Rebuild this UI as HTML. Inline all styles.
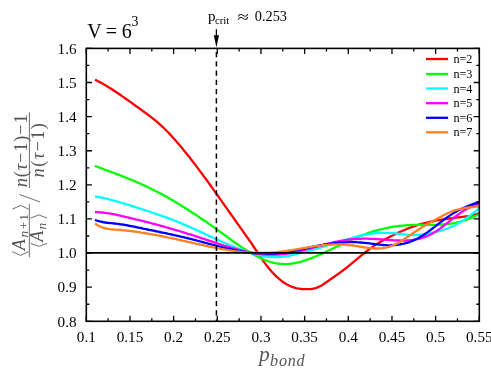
<!DOCTYPE html>
<html><head><meta charset="utf-8"><title>plot</title>
<style>
html,body{margin:0;padding:0;background:#fff;}
body{width:491px;height:369px;overflow:hidden;}
svg{display:block;}
text{font-family:"Liberation Serif",serif;fill:#000;}
.it{font-style:italic;}
</style></head><body>
<svg width="491" height="369" viewBox="0 0 491 369">
<rect x="0" y="0" width="491" height="369" fill="#fff"/>

<defs><filter id="gs" x="0" y="0" width="491" height="369" filterUnits="userSpaceOnUse" color-interpolation-filters="sRGB"><feColorMatrix type="saturate" values="0"/></filter><clipPath id="c"><rect x="86.3" y="48.4" width="393.0" height="272.90000000000003"/></clipPath></defs>
<g clip-path="url(#c)" fill="none" stroke-width="2.3" stroke-linejoin="round" stroke-linecap="butt">
<polyline stroke="#ff0000" points="95.0,79.7 96.5,80.4 98.0,81.2 99.5,82.0 101.0,82.8 102.5,83.6 104.0,84.5 105.5,85.3 107.0,86.2 108.5,87.2 110.0,88.1 111.5,89.0 113.0,90.0 114.5,91.0 116.0,92.0 117.5,93.0 119.0,94.0 120.5,95.0 122.0,96.1 123.5,97.1 125.0,98.2 126.5,99.2 128.0,100.3 129.5,101.4 131.0,102.4 132.5,103.5 134.0,104.6 135.5,105.7 137.0,106.8 138.5,107.8 140.0,108.9 141.5,110.0 143.0,111.1 144.5,112.2 146.0,113.3 147.5,114.4 149.0,115.5 150.5,116.6 152.0,117.8 153.5,119.0 155.0,120.2 156.5,121.5 158.0,122.7 159.5,124.1 161.0,125.4 162.5,126.8 164.0,128.3 165.5,129.8 167.0,131.3 168.5,132.8 170.0,134.4 171.5,136.0 173.0,137.7 174.5,139.3 176.0,141.0 177.5,142.7 179.0,144.5 180.5,146.3 182.0,148.0 183.5,149.9 185.0,151.7 186.5,153.6 188.0,155.4 189.5,157.3 191.0,159.3 192.5,161.2 194.0,163.1 195.5,165.1 197.0,167.1 198.5,169.1 200.0,171.1 201.5,173.1 203.0,175.2 204.5,177.2 206.0,179.3 207.5,181.3 209.0,183.4 210.5,185.5 212.0,187.6 213.5,189.7 215.0,191.8 216.5,193.9 218.0,196.0 219.5,198.1 221.0,200.2 222.5,202.4 224.0,204.5 225.5,206.6 227.0,208.7 228.5,210.9 230.0,213.0 231.5,215.1 233.0,217.2 234.5,219.4 236.0,221.5 237.5,223.6 239.0,225.7 240.5,227.8 242.0,229.9 243.5,232.1 245.0,234.2 246.5,236.3 248.0,238.4 249.5,240.6 251.0,242.7 252.5,245.0 254.0,247.2 255.5,249.5 257.0,251.7 258.5,254.0 260.0,256.2 261.5,258.4 263.0,260.6 264.5,262.6 266.0,264.6 267.5,266.6 269.0,268.4 270.5,270.2 272.0,271.9 273.5,273.6 275.0,275.1 276.5,276.6 278.0,277.9 279.5,279.2 281.0,280.5 282.5,281.6 284.0,282.7 285.5,283.6 287.0,284.5 288.5,285.3 290.0,286.0 291.5,286.7 293.0,287.2 294.5,287.7 296.0,288.1 297.5,288.4 299.0,288.6 300.5,288.8 302.0,289.0 303.5,289.1 305.0,289.2 306.5,289.2 308.0,289.2 309.5,289.1 311.0,289.0 312.5,288.8 314.0,288.5 315.5,288.1 317.0,287.6 318.5,286.9 320.0,286.2 321.5,285.4 323.0,284.5 324.5,283.5 326.0,282.5 327.5,281.5 329.0,280.4 330.5,279.3 332.0,278.3 333.5,277.2 335.0,276.2 336.5,275.1 338.0,274.0 339.5,273.0 341.0,271.9 342.5,270.8 344.0,269.6 345.5,268.5 347.0,267.3 348.5,266.1 350.0,264.9 351.5,263.6 353.0,262.4 354.5,261.1 356.0,259.9 357.5,258.6 359.0,257.4 360.5,256.1 362.0,254.9 363.5,253.7 365.0,252.5 366.5,251.3 368.0,250.2 369.5,249.0 371.0,247.9 372.5,246.9 374.0,245.9 375.5,244.9 377.0,243.9 378.5,243.0 380.0,242.1 381.5,241.2 383.0,240.4 384.5,239.6 386.0,238.7 387.5,238.0 389.0,237.2 390.5,236.4 392.0,235.7 393.5,235.0 395.0,234.2 396.5,233.5 398.0,232.8 399.5,232.1 401.0,231.5 402.5,230.8 404.0,230.2 405.5,229.5 407.0,228.9 408.5,228.3 410.0,227.7 411.5,227.2 413.0,226.6 414.5,226.1 416.0,225.6 417.5,225.1 419.0,224.7 420.5,224.2 422.0,223.8 423.5,223.4 425.0,223.0 426.5,222.6 428.0,222.3 429.5,221.9 431.0,221.6 432.5,221.3 434.0,221.0 435.5,220.7 437.0,220.4 438.5,220.1 440.0,219.9 441.5,219.6 443.0,219.4 444.5,219.2 446.0,219.0 447.5,218.8 449.0,218.5 450.5,218.4 452.0,218.2 453.5,218.0 455.0,217.8 456.5,217.6 458.0,217.4 459.5,217.3 461.0,217.1 462.5,216.9 464.0,216.7 465.5,216.5 467.0,216.3 468.5,216.1 470.0,215.9 471.5,215.6 473.0,215.3 474.5,214.9 476.0,214.4 477.5,213.9 479.0,213.3 479.1,213.2"/>
<polyline stroke="#00ff00" points="95.0,165.9 96.5,166.5 98.0,167.0 99.5,167.6 101.0,168.2 102.5,168.7 104.0,169.3 105.5,169.8 107.0,170.4 108.5,170.9 110.0,171.5 111.5,172.1 113.0,172.6 114.5,173.2 116.0,173.8 117.5,174.3 119.0,174.9 120.5,175.5 122.0,176.1 123.5,176.7 125.0,177.2 126.5,177.8 128.0,178.5 129.5,179.1 131.0,179.7 132.5,180.3 134.0,180.9 135.5,181.6 137.0,182.2 138.5,182.9 140.0,183.5 141.5,184.2 143.0,184.9 144.5,185.6 146.0,186.3 147.5,187.0 149.0,187.7 150.5,188.4 152.0,189.2 153.5,189.9 155.0,190.7 156.5,191.5 158.0,192.2 159.5,193.0 161.0,193.8 162.5,194.6 164.0,195.5 165.5,196.3 167.0,197.1 168.5,198.0 170.0,198.8 171.5,199.7 173.0,200.6 174.5,201.5 176.0,202.3 177.5,203.2 179.0,204.1 180.5,205.1 182.0,206.0 183.5,206.9 185.0,207.9 186.5,208.8 188.0,209.8 189.5,210.7 191.0,211.7 192.5,212.7 194.0,213.7 195.5,214.6 197.0,215.6 198.5,216.6 200.0,217.7 201.5,218.7 203.0,219.7 204.5,220.7 206.0,221.8 207.5,222.8 209.0,223.9 210.5,224.9 212.0,226.0 213.5,227.0 215.0,228.1 216.5,229.2 218.0,230.3 219.5,231.4 221.0,232.5 222.5,233.6 224.0,234.6 225.5,235.7 227.0,236.8 228.5,237.9 230.0,239.0 231.5,240.1 233.0,241.2 234.5,242.2 236.0,243.3 237.5,244.3 239.0,245.3 240.5,246.4 242.0,247.4 243.5,248.4 245.0,249.3 246.5,250.3 248.0,251.2 249.5,252.1 251.0,253.0 252.5,253.9 254.0,254.7 255.5,255.6 257.0,256.3 258.5,257.1 260.0,257.8 261.5,258.5 263.0,259.2 264.5,259.8 266.0,260.4 267.5,261.0 269.0,261.5 270.5,262.0 272.0,262.4 273.5,262.8 275.0,263.1 276.5,263.4 278.0,263.6 279.5,263.8 281.0,263.9 282.5,264.0 284.0,264.1 285.5,264.1 287.0,264.0 288.5,263.9 290.0,263.8 291.5,263.6 293.0,263.4 294.5,263.1 296.0,262.8 297.5,262.5 299.0,262.1 300.5,261.8 302.0,261.3 303.5,260.9 305.0,260.4 306.5,259.9 308.0,259.4 309.5,258.9 311.0,258.3 312.5,257.7 314.0,257.1 315.5,256.5 317.0,255.8 318.5,255.2 320.0,254.5 321.5,253.9 323.0,253.2 324.5,252.5 326.0,251.8 327.5,251.1 329.0,250.4 330.5,249.7 332.0,249.0 333.5,248.2 335.0,247.5 336.5,246.8 338.0,246.1 339.5,245.4 341.0,244.7 342.5,244.0 344.0,243.3 345.5,242.6 347.0,241.9 348.5,241.2 350.0,240.5 351.5,239.9 353.0,239.2 354.5,238.5 356.0,237.9 357.5,237.3 359.0,236.6 360.5,236.0 362.0,235.4 363.5,234.9 365.0,234.3 366.5,233.7 368.0,233.2 369.5,232.7 371.0,232.2 372.5,231.7 374.0,231.2 375.5,230.7 377.0,230.3 378.5,229.9 380.0,229.5 381.5,229.1 383.0,228.8 384.5,228.4 386.0,228.1 387.5,227.8 389.0,227.5 390.5,227.2 392.0,227.0 393.5,226.7 395.0,226.5 396.5,226.3 398.0,226.1 399.5,225.9 401.0,225.8 402.5,225.6 404.0,225.5 405.5,225.3 407.0,225.2 408.5,225.1 410.0,225.1 411.5,225.0 413.0,224.9 414.5,224.9 416.0,224.8 417.5,224.8 419.0,224.8 420.5,224.8 422.0,224.8 423.5,224.8 425.0,224.8 426.5,224.8 428.0,224.8 429.5,224.8 431.0,224.8 432.5,224.8 434.0,224.8 435.5,224.8 437.0,224.8 438.5,224.7 440.0,224.7 441.5,224.6 443.0,224.5 444.5,224.4 446.0,224.2 447.5,224.1 449.0,223.9 450.5,223.7 452.0,223.5 453.5,223.2 455.0,222.9 456.5,222.6 458.0,222.2 459.5,221.9 461.0,221.4 462.5,221.0 464.0,220.5 465.5,220.1 467.0,219.5 468.5,219.0 470.0,218.4 471.5,217.8 473.0,217.1 474.5,216.4 476.0,215.7 477.5,215.0 479.0,214.2 479.1,214.2"/>
<polyline stroke="#00ffff" points="95.0,196.4 96.5,196.6 98.0,196.9 99.5,197.2 101.0,197.5 102.5,197.8 104.0,198.2 105.5,198.5 107.0,198.9 108.5,199.2 110.0,199.6 111.5,200.0 113.0,200.4 114.5,200.8 116.0,201.2 117.5,201.6 119.0,202.0 120.5,202.5 122.0,202.9 123.5,203.3 125.0,203.8 126.5,204.3 128.0,204.7 129.5,205.2 131.0,205.7 132.5,206.1 134.0,206.6 135.5,207.1 137.0,207.6 138.5,208.1 140.0,208.6 141.5,209.1 143.0,209.5 144.5,210.0 146.0,210.5 147.5,211.0 149.0,211.5 150.5,212.0 152.0,212.5 153.5,213.0 155.0,213.5 156.5,214.0 158.0,214.6 159.5,215.1 161.0,215.6 162.5,216.1 164.0,216.6 165.5,217.2 167.0,217.7 168.5,218.3 170.0,218.8 171.5,219.4 173.0,220.0 174.5,220.6 176.0,221.1 177.5,221.7 179.0,222.4 180.5,223.0 182.0,223.6 183.5,224.3 185.0,224.9 186.5,225.6 188.0,226.2 189.5,226.9 191.0,227.6 192.5,228.2 194.0,228.9 195.5,229.6 197.0,230.3 198.5,231.0 200.0,231.7 201.5,232.4 203.0,233.1 204.5,233.8 206.0,234.5 207.5,235.2 209.0,235.9 210.5,236.6 212.0,237.3 213.5,238.0 215.0,238.7 216.5,239.3 218.0,240.0 219.5,240.7 221.0,241.3 222.5,242.0 224.0,242.7 225.5,243.3 227.0,243.9 228.5,244.6 230.0,245.2 231.5,245.8 233.0,246.4 234.5,247.0 236.0,247.6 237.5,248.2 239.0,248.8 240.5,249.3 242.0,249.9 243.5,250.4 245.0,251.0 246.5,251.5 248.0,252.0 249.5,252.5 251.0,252.9 252.5,253.4 254.0,253.8 255.5,254.3 257.0,254.6 258.5,255.0 260.0,255.4 261.5,255.7 263.0,256.0 264.5,256.2 266.0,256.5 267.5,256.7 269.0,256.8 270.5,257.0 272.0,257.1 273.5,257.1 275.0,257.2 276.5,257.2 278.0,257.1 279.5,257.0 281.0,256.9 282.5,256.7 284.0,256.5 285.5,256.3 287.0,256.0 288.5,255.8 290.0,255.5 291.5,255.1 293.0,254.8 294.5,254.4 296.0,254.1 297.5,253.7 299.0,253.3 300.5,253.0 302.0,252.6 303.5,252.2 305.0,251.8 306.5,251.4 308.0,251.0 309.5,250.6 311.0,250.2 312.5,249.8 314.0,249.4 315.5,249.0 317.0,248.5 318.5,248.1 320.0,247.7 321.5,247.2 323.0,246.8 324.5,246.3 326.0,245.8 327.5,245.4 329.0,244.9 330.5,244.4 332.0,244.0 333.5,243.5 335.0,243.0 336.5,242.6 338.0,242.1 339.5,241.6 341.0,241.2 342.5,240.7 344.0,240.2 345.5,239.8 347.0,239.3 348.5,238.9 350.0,238.5 351.5,238.0 353.0,237.6 354.5,237.2 356.0,236.8 357.5,236.4 359.0,236.1 360.5,235.7 362.0,235.4 363.5,235.0 365.0,234.7 366.5,234.5 368.0,234.2 369.5,233.9 371.0,233.7 372.5,233.5 374.0,233.4 375.5,233.2 377.0,233.1 378.5,233.0 380.0,232.9 381.5,232.8 383.0,232.8 384.5,232.8 386.0,232.8 387.5,232.8 389.0,232.8 390.5,232.9 392.0,233.0 393.5,233.1 395.0,233.3 396.5,233.4 398.0,233.6 399.5,233.8 401.0,234.0 402.5,234.2 404.0,234.4 405.5,234.5 407.0,234.7 408.5,234.8 410.0,234.9 411.5,235.0 413.0,235.0 414.5,235.0 416.0,235.0 417.5,234.9 419.0,234.9 420.5,234.7 422.0,234.6 423.5,234.4 425.0,234.2 426.5,234.0 428.0,233.7 429.5,233.4 431.0,233.1 432.5,232.8 434.0,232.5 435.5,232.1 437.0,231.7 438.5,231.3 440.0,230.9 441.5,230.5 443.0,230.0 444.5,229.5 446.0,229.0 447.5,228.5 449.0,227.9 450.5,227.3 452.0,226.7 453.5,226.0 455.0,225.2 456.5,224.4 458.0,223.6 459.5,222.7 461.0,221.8 462.5,220.9 464.0,219.9 465.5,218.9 467.0,217.8 468.5,216.7 470.0,215.6 471.5,214.5 473.0,213.3 474.5,212.1 476.0,210.9 477.5,209.6 479.0,208.4 479.1,208.3"/>
<polyline stroke="#ff00ff" points="95.0,212.2 96.5,212.2 98.0,212.2 99.5,212.3 101.0,212.4 102.5,212.5 104.0,212.7 105.5,212.9 107.0,213.1 108.5,213.3 110.0,213.5 111.5,213.8 113.0,214.1 114.5,214.4 116.0,214.7 117.5,215.0 119.0,215.4 120.5,215.7 122.0,216.1 123.5,216.4 125.0,216.8 126.5,217.1 128.0,217.5 129.5,217.8 131.0,218.2 132.5,218.6 134.0,218.9 135.5,219.3 137.0,219.6 138.5,220.0 140.0,220.4 141.5,220.7 143.0,221.1 144.5,221.5 146.0,221.8 147.5,222.2 149.0,222.6 150.5,223.0 152.0,223.4 153.5,223.8 155.0,224.2 156.5,224.6 158.0,225.0 159.5,225.4 161.0,225.8 162.5,226.2 164.0,226.6 165.5,227.1 167.0,227.5 168.5,227.9 170.0,228.4 171.5,228.8 173.0,229.2 174.5,229.7 176.0,230.1 177.5,230.6 179.0,231.0 180.5,231.5 182.0,231.9 183.5,232.4 185.0,232.8 186.5,233.3 188.0,233.8 189.5,234.2 191.0,234.7 192.5,235.2 194.0,235.7 195.5,236.1 197.0,236.6 198.5,237.1 200.0,237.6 201.5,238.1 203.0,238.6 204.5,239.1 206.0,239.6 207.5,240.1 209.0,240.6 210.5,241.1 212.0,241.6 213.5,242.1 215.0,242.6 216.5,243.0 218.0,243.5 219.5,244.0 221.0,244.5 222.5,245.0 224.0,245.5 225.5,245.9 227.0,246.4 228.5,246.9 230.0,247.3 231.5,247.8 233.0,248.2 234.5,248.6 236.0,249.0 237.5,249.4 239.0,249.8 240.5,250.2 242.0,250.6 243.5,251.0 245.0,251.3 246.5,251.6 248.0,252.0 249.5,252.3 251.0,252.6 252.5,252.8 254.0,253.1 255.5,253.3 257.0,253.6 258.5,253.8 260.0,253.9 261.5,254.1 263.0,254.3 264.5,254.4 266.0,254.5 267.5,254.6 269.0,254.7 270.5,254.7 272.0,254.7 273.5,254.7 275.0,254.7 276.5,254.6 278.0,254.5 279.5,254.4 281.0,254.3 282.5,254.2 284.0,254.0 285.5,253.8 287.0,253.6 288.5,253.3 290.0,253.1 291.5,252.8 293.0,252.5 294.5,252.2 296.0,251.9 297.5,251.6 299.0,251.2 300.5,250.9 302.0,250.5 303.5,250.2 305.0,249.8 306.5,249.4 308.0,249.0 309.5,248.6 311.0,248.2 312.5,247.8 314.0,247.4 315.5,247.0 317.0,246.6 318.5,246.2 320.0,245.8 321.5,245.4 323.0,245.0 324.5,244.6 326.0,244.2 327.5,243.8 329.0,243.4 330.5,243.1 332.0,242.7 333.5,242.4 335.0,242.0 336.5,241.7 338.0,241.4 339.5,241.1 341.0,240.8 342.5,240.6 344.0,240.3 345.5,240.1 347.0,239.9 348.5,239.7 350.0,239.5 351.5,239.4 353.0,239.2 354.5,239.1 356.0,239.0 357.5,238.9 359.0,238.8 360.5,238.8 362.0,238.7 363.5,238.7 365.0,238.7 366.5,238.7 368.0,238.7 369.5,238.8 371.0,238.8 372.5,238.9 374.0,238.9 375.5,239.0 377.0,239.1 378.5,239.2 380.0,239.3 381.5,239.4 383.0,239.5 384.5,239.6 386.0,239.8 387.5,239.9 389.0,240.0 390.5,240.1 392.0,240.2 393.5,240.3 395.0,240.4 396.5,240.4 398.0,240.5 399.5,240.5 401.0,240.6 402.5,240.6 404.0,240.6 405.5,240.5 407.0,240.5 408.5,240.4 410.0,240.2 411.5,240.1 413.0,239.9 414.5,239.7 416.0,239.4 417.5,239.1 419.0,238.8 420.5,238.4 422.0,237.9 423.5,237.5 425.0,236.9 426.5,236.3 428.0,235.7 429.5,235.0 431.0,234.3 432.5,233.5 434.0,232.6 435.5,231.7 437.0,230.8 438.5,229.7 440.0,228.7 441.5,227.5 443.0,226.4 444.5,225.2 446.0,224.0 447.5,222.8 449.0,221.6 450.5,220.4 452.0,219.2 453.5,218.1 455.0,216.9 456.5,215.8 458.0,214.7 459.5,213.6 461.0,212.5 462.5,211.6 464.0,210.6 465.5,209.7 467.0,208.8 468.5,208.1 470.0,207.3 471.5,206.6 473.0,206.0 474.5,205.5 476.0,205.0 477.5,204.5 479.0,204.2 479.1,204.2"/>
<polyline stroke="#0000ff" points="95.0,219.9 96.5,220.5 98.0,220.9 99.5,221.4 101.0,221.7 102.5,222.0 104.0,222.3 105.5,222.5 107.0,222.8 108.5,222.9 110.0,223.1 111.5,223.2 113.0,223.4 114.5,223.5 116.0,223.7 117.5,223.9 119.0,224.0 120.5,224.3 122.0,224.5 123.5,224.7 125.0,225.0 126.5,225.2 128.0,225.5 129.5,225.8 131.0,226.1 132.5,226.4 134.0,226.7 135.5,227.0 137.0,227.3 138.5,227.6 140.0,227.9 141.5,228.2 143.0,228.6 144.5,228.9 146.0,229.2 147.5,229.5 149.0,229.8 150.5,230.1 152.0,230.4 153.5,230.7 155.0,231.0 156.5,231.3 158.0,231.6 159.5,232.0 161.0,232.3 162.5,232.6 164.0,232.9 165.5,233.2 167.0,233.5 168.5,233.9 170.0,234.2 171.5,234.5 173.0,234.8 174.5,235.2 176.0,235.5 177.5,235.8 179.0,236.2 180.5,236.5 182.0,236.9 183.5,237.2 185.0,237.6 186.5,237.9 188.0,238.3 189.5,238.7 191.0,239.0 192.5,239.4 194.0,239.8 195.5,240.2 197.0,240.6 198.5,241.0 200.0,241.4 201.5,241.8 203.0,242.2 204.5,242.6 206.0,243.0 207.5,243.4 209.0,243.8 210.5,244.2 212.0,244.6 213.5,244.9 215.0,245.3 216.5,245.7 218.0,246.1 219.5,246.5 221.0,246.9 222.5,247.3 224.0,247.6 225.5,248.0 227.0,248.4 228.5,248.7 230.0,249.0 231.5,249.4 233.0,249.7 234.5,250.0 236.0,250.3 237.5,250.6 239.0,250.9 240.5,251.2 242.0,251.5 243.5,251.7 245.0,252.0 246.5,252.2 248.0,252.4 249.5,252.6 251.0,252.8 252.5,253.0 254.0,253.1 255.5,253.3 257.0,253.4 258.5,253.5 260.0,253.6 261.5,253.6 263.0,253.7 264.5,253.7 266.0,253.7 267.5,253.7 269.0,253.7 270.5,253.7 272.0,253.6 273.5,253.5 275.0,253.4 276.5,253.3 278.0,253.1 279.5,253.0 281.0,252.8 282.5,252.6 284.0,252.4 285.5,252.2 287.0,251.9 288.5,251.7 290.0,251.4 291.5,251.2 293.0,250.9 294.5,250.6 296.0,250.3 297.5,250.0 299.0,249.7 300.5,249.4 302.0,249.1 303.5,248.8 305.0,248.5 306.5,248.2 308.0,247.8 309.5,247.5 311.0,247.2 312.5,246.9 314.0,246.6 315.5,246.3 317.0,246.0 318.5,245.7 320.0,245.4 321.5,245.1 323.0,244.8 324.5,244.5 326.0,244.3 327.5,244.0 329.0,243.8 330.5,243.6 332.0,243.4 333.5,243.2 335.0,243.0 336.5,242.8 338.0,242.7 339.5,242.5 341.0,242.4 342.5,242.3 344.0,242.2 345.5,242.2 347.0,242.1 348.5,242.1 350.0,242.1 351.5,242.1 353.0,242.1 354.5,242.2 356.0,242.2 357.5,242.3 359.0,242.4 360.5,242.5 362.0,242.6 363.5,242.8 365.0,242.9 366.5,243.1 368.0,243.2 369.5,243.4 371.0,243.6 372.5,243.8 374.0,244.0 375.5,244.2 377.0,244.4 378.5,244.6 380.0,244.7 381.5,244.9 383.0,245.0 384.5,245.1 386.0,245.2 387.5,245.3 389.0,245.3 390.5,245.3 392.0,245.2 393.5,245.2 395.0,245.1 396.5,244.9 398.0,244.7 399.5,244.5 401.0,244.2 402.5,243.9 404.0,243.6 405.5,243.2 407.0,242.8 408.5,242.3 410.0,241.8 411.5,241.2 413.0,240.6 414.5,239.9 416.0,239.2 417.5,238.5 419.0,237.7 420.5,236.8 422.0,235.9 423.5,235.0 425.0,234.0 426.5,232.9 428.0,231.9 429.5,230.8 431.0,229.6 432.5,228.5 434.0,227.4 435.5,226.2 437.0,225.0 438.5,223.9 440.0,222.7 441.5,221.5 443.0,220.4 444.5,219.3 446.0,218.2 447.5,217.1 449.0,216.1 450.5,215.1 452.0,214.1 453.5,213.2 455.0,212.3 456.5,211.4 458.0,210.6 459.5,209.8 461.0,209.1 462.5,208.4 464.0,207.7 465.5,207.0 467.0,206.4 468.5,205.8 470.0,205.2 471.5,204.7 473.0,204.2 474.5,203.7 476.0,203.2 477.5,202.7 479.0,202.3 479.1,202.3"/>
<polyline stroke="#ff8020" points="95.0,223.4 96.5,224.5 98.0,225.4 99.5,226.2 101.0,226.9 102.5,227.5 104.0,227.9 105.5,228.3 107.0,228.7 108.5,228.9 110.0,229.1 111.5,229.3 113.0,229.5 114.5,229.6 116.0,229.7 117.5,229.8 119.0,229.9 120.5,230.0 122.0,230.1 123.5,230.3 125.0,230.4 126.5,230.6 128.0,230.8 129.5,230.9 131.0,231.1 132.5,231.3 134.0,231.5 135.5,231.7 137.0,231.9 138.5,232.1 140.0,232.3 141.5,232.6 143.0,232.8 144.5,233.0 146.0,233.3 147.5,233.5 149.0,233.8 150.5,234.1 152.0,234.3 153.5,234.6 155.0,234.9 156.5,235.2 158.0,235.5 159.5,235.7 161.0,236.0 162.5,236.3 164.0,236.7 165.5,237.0 167.0,237.3 168.5,237.6 170.0,237.9 171.5,238.2 173.0,238.5 174.5,238.9 176.0,239.2 177.5,239.5 179.0,239.9 180.5,240.2 182.0,240.5 183.5,240.9 185.0,241.2 186.5,241.5 188.0,241.9 189.5,242.2 191.0,242.5 192.5,242.9 194.0,243.2 195.5,243.6 197.0,243.9 198.5,244.2 200.0,244.6 201.5,244.9 203.0,245.2 204.5,245.5 206.0,245.9 207.5,246.2 209.0,246.5 210.5,246.8 212.0,247.1 213.5,247.4 215.0,247.7 216.5,248.0 218.0,248.3 219.5,248.6 221.0,248.9 222.5,249.2 224.0,249.4 225.5,249.7 227.0,249.9 228.5,250.2 230.0,250.4 231.5,250.6 233.0,250.9 234.5,251.1 236.0,251.3 237.5,251.5 239.0,251.6 240.5,251.8 242.0,252.0 243.5,252.1 245.0,252.3 246.5,252.4 248.0,252.5 249.5,252.6 251.0,252.7 252.5,252.8 254.0,252.9 255.5,252.9 257.0,253.0 258.5,253.0 260.0,253.0 261.5,253.0 263.0,253.0 264.5,253.0 266.0,252.9 267.5,252.9 269.0,252.8 270.5,252.7 272.0,252.6 273.5,252.5 275.0,252.3 276.5,252.2 278.0,252.0 279.5,251.8 281.0,251.7 282.5,251.5 284.0,251.3 285.5,251.0 287.0,250.8 288.5,250.6 290.0,250.3 291.5,250.1 293.0,249.9 294.5,249.6 296.0,249.4 297.5,249.1 299.0,248.8 300.5,248.6 302.0,248.3 303.5,248.1 305.0,247.8 306.5,247.6 308.0,247.3 309.5,247.1 311.0,246.8 312.5,246.6 314.0,246.4 315.5,246.2 317.0,246.0 318.5,245.8 320.0,245.6 321.5,245.4 323.0,245.2 324.5,245.1 326.0,244.9 327.5,244.8 329.0,244.7 330.5,244.6 332.0,244.5 333.5,244.5 335.0,244.4 336.5,244.4 338.0,244.4 339.5,244.4 341.0,244.5 342.5,244.5 344.0,244.6 345.5,244.7 347.0,244.8 348.5,245.0 350.0,245.1 351.5,245.3 353.0,245.5 354.5,245.7 356.0,246.0 357.5,246.2 359.0,246.5 360.5,246.7 362.0,247.0 363.5,247.2 365.0,247.5 366.5,247.7 368.0,247.9 369.5,248.1 371.0,248.2 372.5,248.3 374.0,248.4 375.5,248.5 377.0,248.5 378.5,248.5 380.0,248.4 381.5,248.3 383.0,248.1 384.5,247.9 386.0,247.6 387.5,247.2 389.0,246.8 390.5,246.3 392.0,245.7 393.5,245.1 395.0,244.4 396.5,243.7 398.0,242.9 399.5,242.1 401.0,241.2 402.5,240.2 404.0,239.3 405.5,238.3 407.0,237.3 408.5,236.3 410.0,235.3 411.5,234.2 413.0,233.2 414.5,232.2 416.0,231.2 417.5,230.2 419.0,229.2 420.5,228.2 422.0,227.3 423.5,226.4 425.0,225.5 426.5,224.7 428.0,223.8 429.5,223.0 431.0,222.1 432.5,221.3 434.0,220.5 435.5,219.7 437.0,218.8 438.5,218.0 440.0,217.2 441.5,216.4 443.0,215.6 444.5,214.8 446.0,214.1 447.5,213.3 449.0,212.7 450.5,212.0 452.0,211.4 453.5,210.9 455.0,210.4 456.5,209.9 458.0,209.5 459.5,209.1 461.0,208.8 462.5,208.4 464.0,208.2 465.5,207.9 467.0,207.7 468.5,207.5 470.0,207.3 471.5,207.1 473.0,207.0 474.5,206.8 476.0,206.7 477.5,206.6 479.0,206.5 479.1,206.5"/>
</g>
<g filter="url(#gs)">
<line x1="86.3" y1="252.9" x2="479.3" y2="252.9" stroke="#000" stroke-width="1.6"/>
<line x1="216.4" y1="48.4" x2="216.4" y2="321.3" stroke="#000" stroke-width="1.5" stroke-dasharray="5.3 3.92" stroke-dashoffset="5.62"/>
<rect x="86.3" y="48.4" width="393.0" height="272.90000000000003" fill="none" stroke="#000" stroke-width="1.6"/>
<path d="M86.30 321.3v-5.6M86.30 48.4v5.6M108.13 321.3v-3.0M108.13 48.4v3.0M129.97 321.3v-5.6M129.97 48.4v5.6M151.80 321.3v-3.0M151.80 48.4v3.0M173.63 321.3v-5.6M173.63 48.4v5.6M195.47 321.3v-3.0M195.47 48.4v3.0M217.30 321.3v-5.6M217.30 48.4v5.6M239.13 321.3v-3.0M239.13 48.4v3.0M260.97 321.3v-5.6M260.97 48.4v5.6M282.80 321.3v-3.0M282.80 48.4v3.0M304.63 321.3v-5.6M304.63 48.4v5.6M326.47 321.3v-3.0M326.47 48.4v3.0M348.30 321.3v-5.6M348.30 48.4v5.6M370.13 321.3v-3.0M370.13 48.4v3.0M391.97 321.3v-5.6M391.97 48.4v5.6M413.80 321.3v-3.0M413.80 48.4v3.0M435.63 321.3v-5.6M435.63 48.4v5.6M457.47 321.3v-3.0M457.47 48.4v3.0M479.30 321.3v-5.6M479.30 48.4v5.6M86.3 321.30h5.6M479.3 321.30h-5.6M86.3 304.24h3.0M479.3 304.24h-3.0M86.3 287.19h5.6M479.3 287.19h-5.6M86.3 270.13h3.0M479.3 270.13h-3.0M86.3 253.08h5.6M479.3 253.08h-5.6M86.3 236.02h3.0M479.3 236.02h-3.0M86.3 218.96h5.6M479.3 218.96h-5.6M86.3 201.91h3.0M479.3 201.91h-3.0M86.3 184.85h5.6M479.3 184.85h-5.6M86.3 167.79h3.0M479.3 167.79h-3.0M86.3 150.74h5.6M479.3 150.74h-5.6M86.3 133.68h3.0M479.3 133.68h-3.0M86.3 116.62h5.6M479.3 116.62h-5.6M86.3 99.57h3.0M479.3 99.57h-3.0M86.3 82.51h5.6M479.3 82.51h-5.6M86.3 65.46h3.0M479.3 65.46h-3.0M86.3 48.40h5.6M479.3 48.40h-5.6" stroke="#000" stroke-width="1.3" fill="none"/>
<text x="86.3" y="342.3" font-size="15.2" text-anchor="middle">0.1</text>
<text x="130.0" y="342.3" font-size="15.2" text-anchor="middle">0.15</text>
<text x="173.6" y="342.3" font-size="15.2" text-anchor="middle">0.2</text>
<text x="217.3" y="342.3" font-size="15.2" text-anchor="middle">0.25</text>
<text x="261.0" y="342.3" font-size="15.2" text-anchor="middle">0.3</text>
<text x="304.6" y="342.3" font-size="15.2" text-anchor="middle">0.35</text>
<text x="348.3" y="342.3" font-size="15.2" text-anchor="middle">0.4</text>
<text x="392.0" y="342.3" font-size="15.2" text-anchor="middle">0.45</text>
<text x="435.6" y="342.3" font-size="15.2" text-anchor="middle">0.5</text>
<text x="479.3" y="342.3" font-size="15.2" text-anchor="middle">0.55</text>
<text x="76.6" y="326.5" font-size="15.2" text-anchor="end">0.8</text>
<text x="76.6" y="292.4" font-size="15.2" text-anchor="end">0.9</text>
<text x="76.6" y="258.3" font-size="15.2" text-anchor="end">1.0</text>
<text x="76.6" y="224.2" font-size="15.2" text-anchor="end">1.1</text>
<text x="76.6" y="190.0" font-size="15.2" text-anchor="end">1.2</text>
<text x="76.6" y="155.9" font-size="15.2" text-anchor="end">1.3</text>
<text x="76.6" y="121.8" font-size="15.2" text-anchor="end">1.4</text>
<text x="76.6" y="87.7" font-size="15.2" text-anchor="end">1.5</text>
<text x="76.6" y="53.6" font-size="15.2" text-anchor="end">1.6</text>
<text x="87.2" y="38.3" font-size="20" word-spacing="-0.4">V = 6<tspan font-size="13.8" dy="-12.6" dx="-0.3">3</tspan></text>
<text x="208" y="20.6" font-size="15">p<tspan font-size="10.8" dy="2.9" dx="-0.6">crit</tspan></text>
<text transform="translate(237.4 22.2) scale(1 0.76)" x="0" y="0" font-size="20.5">≈</text>
<text x="254.8" y="20.6" font-size="14.3">0.253</text>
<line x1="216.4" y1="29.2" x2="216.4" y2="40" stroke="#000" stroke-width="1.3"/>
<path d="M213.8 35.2L219 35.2L216.4 47.6Z" fill="#000"/>
</g>
<line x1="426" y1="59" x2="448.1" y2="59" stroke="#ff0000" stroke-width="2.3"/>
<text filter="url(#gs)" x="453.4" y="63.0" font-size="12.2">n=2</text>
<line x1="426" y1="74" x2="448.1" y2="74" stroke="#00ff00" stroke-width="2.3"/>
<text filter="url(#gs)" x="453.4" y="78.0" font-size="12.2">n=3</text>
<line x1="426" y1="88.5" x2="448.1" y2="88.5" stroke="#00ffff" stroke-width="2.3"/>
<text filter="url(#gs)" x="453.4" y="92.5" font-size="12.2">n=4</text>
<line x1="426" y1="103.2" x2="448.1" y2="103.2" stroke="#ff00ff" stroke-width="2.3"/>
<text filter="url(#gs)" x="453.4" y="107.2" font-size="12.2">n=5</text>
<line x1="426" y1="117.8" x2="448.1" y2="117.8" stroke="#0000ff" stroke-width="2.3"/>
<text filter="url(#gs)" x="453.4" y="121.8" font-size="12.2">n=6</text>
<line x1="426" y1="132.3" x2="448.1" y2="132.3" stroke="#ff8020" stroke-width="2.3"/>
<text filter="url(#gs)" x="453.4" y="136.3" font-size="12.2">n=7</text>
<g filter="url(#gs)">
<text x="259" y="361.2" font-size="21.5" class="it" style="fill:#555">p<tspan font-size="16.2" dy="5.1" dx="0.3" letter-spacing="0.75">bond</tspan></text>
<g transform="rotate(-90)" style="fill:#555">
<text x="-250.3" y="25.2" font-size="18" style="fill:#555" ><tspan class="it">A</tspan></text>
<text x="-237.4" y="27.8" font-size="13.5" style="fill:#555" letter-spacing="1.1"><tspan class="it">n</tspan>+1</text>
<text x="-241.8" y="43.2" font-size="18" style="fill:#555" ><tspan class="it">A</tspan></text>
<text x="-229.4" y="45.8" font-size="13.5" style="fill:#555" ><tspan class="it">n</tspan></text>
<text x="-187.2" y="27.4" font-size="18.5" style="fill:#555" letter-spacing="0.75"><tspan class="it">n</tspan>(<tspan class="it">τ</tspan>−1)−1</text>
<text x="-177.4" y="44.0" font-size="18.5" style="fill:#555" letter-spacing="1.3"><tspan class="it">n</tspan>(<tspan class="it">τ</tspan>−1)</text>
</g>
<g fill="none" stroke="#555" stroke-width="0.85">
<path d="M29.35 204.1V257.2M29.4 112.3V188"/>
<path d="M19.3 194.4L40.1 202"/>
<path d="M12.2 251.6L20.6 255.4L28.7 251.6M12.2 209.2L20.6 205.4L28.7 209.2"/>
<path d="M30.6 243.4L38.8 246.3L47.1 243.4M30.6 218.1L38.8 214.9L47.1 218.1"/>
</g>
</g>
</svg></body></html>
